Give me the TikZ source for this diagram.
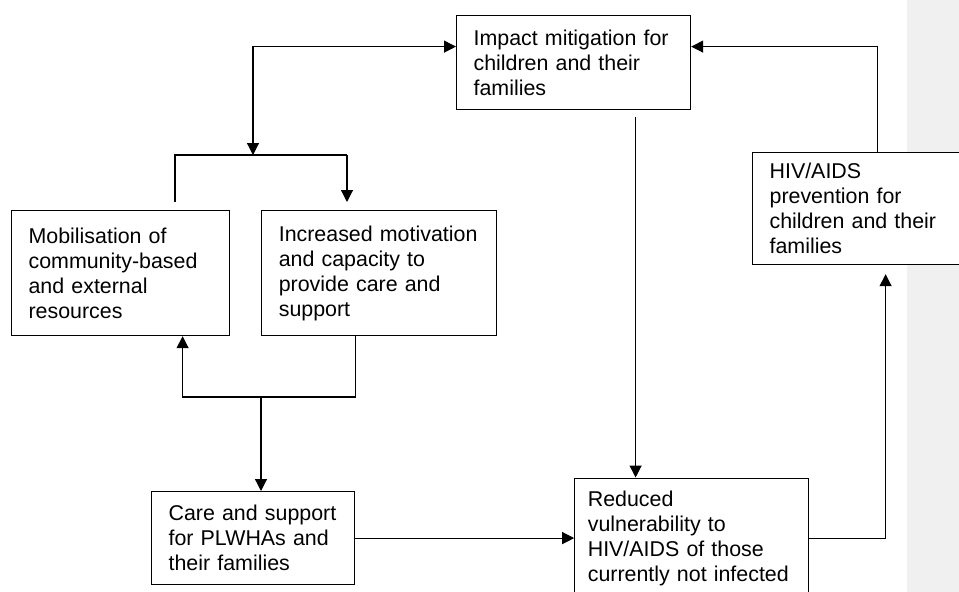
\documentclass[tikz,border=0pt]{standalone}
\usepackage{fontspec}
\setmainfont{Liberation Sans}
\usepackage{xcolor}
\usepackage{tikz}
\usetikzlibrary{arrows.meta,positioning}
\definecolor{panegray}{HTML}{F0F0F0}
\hyphenpenalty=10000
\exhyphenpenalty=10000
\tikzset{
  box/.style={rectangle,draw=black,fill=white,line width=1.2pt,align=left,anchor=north west,inner xsep=17pt,inner ysep=0pt,font=\fontsize{21.4pt}{25pt}\selectfont},
  link/.style={-{Triangle[length=12pt,width=12pt]},line width=1.2pt,draw=black},
  both/.style={{Triangle[length=12pt,width=12pt]}-{Triangle[length=12pt,width=12pt]},line width=1.2pt,draw=black},
  plain/.style={line width=1.2pt,draw=black}
}
\begin{document}
\begin{tikzpicture}[x=1pt,y=-1pt]
\useasboundingbox (0,0) rectangle (959,592);
\clip (0,0) rectangle (959,592);
\fill[panegray] (907,0) rectangle (959,592);
\node[box,text width=200pt,minimum height=94pt] (impact) at (456,15) {Impact mitigation for\\children and their\\families};
\node[box,text width=184pt,minimum height=125pt] (mobil) at (11,210) {Mobilisation of\\community-based\\and external\\resources};
\node[box,text width=201pt,minimum height=125pt,right=31pt of mobil] (incr) {Increased motivation\\and capacity to\\provide care and\\support};
\node[box,text width=169pt,minimum height=93pt] (care) at (151,491) {Care and support\\for PLWHAs and\\their families};
\node[box,text width=208pt,inner xsep=13pt,minimum height=120pt,right=219pt of care] (reduced) {Reduced\\vulnerability to\\HIV/AIDS of those\\currently not infected};
\node[box,text width=189pt,minimum height=112pt] (hiv) at (752,152) {HIV/AIDS\\prevention for\\children and their\\families};
\coordinate (jtop) at (253,155);
\coordinate (bl) at (175,155);
\coordinate (br) at (347,155);
\coordinate (jbot) at (261,397);
\coordinate (drop) at ([xshift=62pt]impact.south);
\coordinate (rise) at ([xshift=21.5pt]hiv.south);
\coordinate (back) at ([xshift=13.5pt]hiv.north);
\draw[both] (jtop) |- ([yshift=16pt]impact.west);
\draw[plain] ([yshift=8pt]mobil.north -| bl) -- (bl) -- (br);
\draw[link] (br) -- ([yshift=8pt]incr.north -| br);
\draw[link] (incr.south -| care.east) |- (jbot) -| ([xshift=62pt]mobil.south);
\draw[link] (jbot) -- (care.north -| jbot);
\draw[link] (care.east) -- (care.east -| reduced.west);
\draw[link] ([yshift=-7pt]drop) -- (drop |- reduced.north);
\draw[link] (reduced.east) -| ([yshift=-9pt]rise);
\draw[link] (back) |- ([yshift=16pt]impact.east);
\end{tikzpicture}
\end{document}
